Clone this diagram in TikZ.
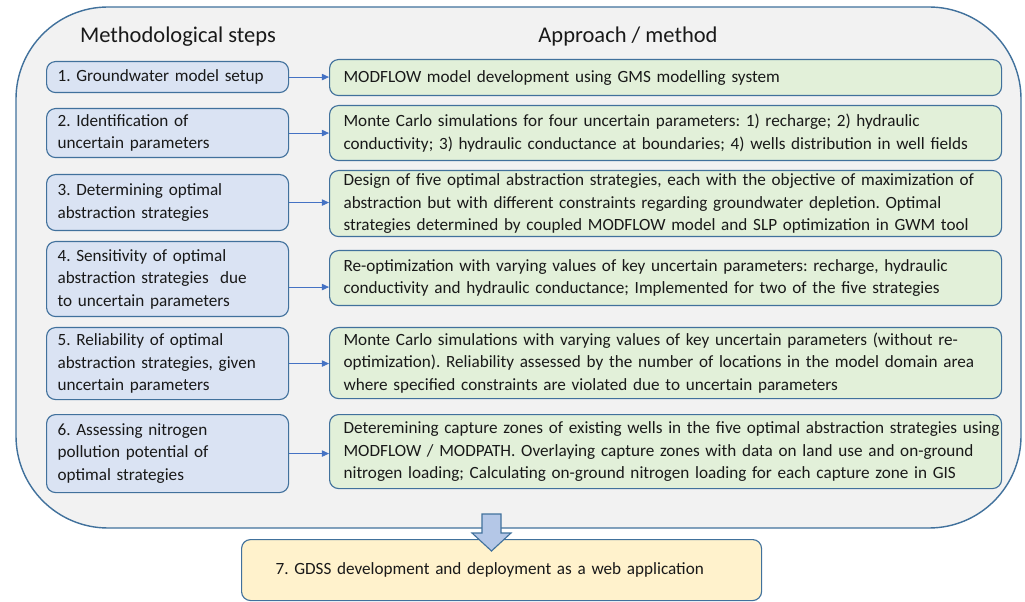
\documentclass[tikz,border=0pt]{standalone}
\usepackage{fontspec}
\setmainfont{Carlito}
\frenchspacing
\usetikzlibrary{arrows.meta}
\newlength\px
\setlength\px{0.025cm}
\definecolor{frameline}{HTML}{41719C}
\definecolor{framefill}{HTML}{F2F2F2}
\definecolor{stepfill}{HTML}{DAE3F3}
\definecolor{methodfill}{HTML}{E2F0D9}
\definecolor{appfill}{HTML}{FFF2CC}
\definecolor{arrowline}{HTML}{4472C4}
\definecolor{blockfill}{HTML}{B4C7E7}
\begin{document}
\begin{tikzpicture}[x=0.025cm, y=-0.025cm,
                    every node/.style = {font=\fontsize{12.2}{16}\selectfont, text=black!90},
                    heading/.style = {font=\fontsize{16}{19}\selectfont},
                    stepbox/.style = {draw=frameline, fill=stepfill, line width=0.8pt, rounded corners=9\px,
                                      anchor=north west, align=left, text width=220\px, inner xsep=11\px, inner ysep=0pt},
                    methodbox/.style = {draw=frameline, fill=methodfill, line width=0.8pt, rounded corners=9\px,
                                        anchor=north west, align=left, text width=644\px, inner xsep=14\px, inner ysep=0pt},
                    appbox/.style = {draw=frameline, fill=appfill, line width=0.8pt, rounded corners=9\px,
                                     anchor=north west, align=left, text width=452\px, inner xsep=34\px, inner ysep=0pt},
                    arrow/.style = {draw=arrowline, line width=0.6pt, -{Triangle[length=5pt,width=4.5pt]}}]
                    \useasboundingbox (0,0) rectangle (1025,602);

                    \draw [frameline, fill=framefill, line width=1pt, rounded corners=92\px] (16,7) rectangle (1021,528);

                    \node [heading] (steps) at (178,37) {Methodological steps};
                    \node [heading] (approach) at (628,37) {Approach / method};

                    \node [stepbox, minimum height=31\px] (s1) at (46,61) {1. Groundwater model setup};
                    \node [stepbox, minimum height=49\px] (s2) at (46,108) {2. Identification of\\uncertain parameters};
                    \node [stepbox, minimum height=56\px] (s3) at (46,174) {3. Determining optimal\\abstraction strategies};
                    \node [stepbox, minimum height=75\px] (s4) at (46,241) {4. Sensitivity of optimal\\abstraction strategies\ \ due\\to uncertain parameters};
                    \node [stepbox, minimum height=72\px] (s5) at (46,327) {5. Reliability of optimal\\abstraction strategies, given\\uncertain parameters};
                    \node [stepbox, minimum height=78\px] (s6) at (46,414) {6. Assessing nitrogen\\pollution potential of\\optimal strategies};

                    \node [methodbox, minimum height=36\px] (m1) at (329,59) {MODFLOW model development using GMS modelling system};
                    \node [methodbox, minimum height=55\px] (m2) at (329,105) {Monte Carlo simulations for four uncertain parameters: 1) recharge; 2) hydraulic\\conductivity; 3) hydraulic conductance at boundaries; 4) wells distribution in well fields};
                    \node [methodbox, minimum height=66\px] (m3) at (329,170) {Design of five optimal abstraction strategies, each with the objective of maximization of\\abstraction but with different constraints regarding groundwater depletion. Optimal\\strategies determined by coupled MODFLOW model and SLP optimization in GWM tool};
                    \node [methodbox, minimum height=55\px] (m4) at (329,250) {Re-optimization with varying values of key uncertain parameters: recharge, hydraulic\\conductivity and hydraulic conductance; Implemented for two of the five strategies};
                    \node [methodbox, minimum height=71\px] (m5) at (329,327) {\mbox{Monte Carlo simulations with varying values of key uncertain parameters (without re-}\\\mbox{optimization). Reliability assessed by the number of locations in the model domain area}\\where specified constraints are violated due to uncertain parameters};
                    \node [methodbox, minimum height=74\px] (m6) at (329,414) {\mbox{Deteremining capture zones of existing wells in the five optimal abstraction strategies using}\\MODFLOW / MODPATH. Overlaying capture zones with data on land use and on-ground\\nitrogen loading; Calculating on-ground nitrogen loading for each capture zone in GIS};

                    \node [appbox, minimum height=61\px] (app) at (241,539) {7. GDSS development and deployment as a web application};

                    \draw[arrow] (s1.east) -- (s1.east -| m1.west);
                    \draw[arrow] (s2.east) -- (s2.east -| m2.west);
                    \draw[arrow] (s3.east) -- (s3.east -| m3.west);
                    \draw[arrow] ([yshift=-8\px]s4.east) -- ([yshift=-8\px]s4.east -| m4.west);
                    \draw[arrow] (s5.east) -- (s5.east -| m5.west);
                    \draw[arrow] (s6.east) -- (s6.east -| m6.west);

                    \draw [frameline, fill=blockfill, line width=0.8pt]
                        (482,514) -- (501,514) -- (501,533) -- (511,533) -- (491.5,551)
                        -- (472,533) -- (482,533) -- cycle;
                \end{tikzpicture}
\end{document}
